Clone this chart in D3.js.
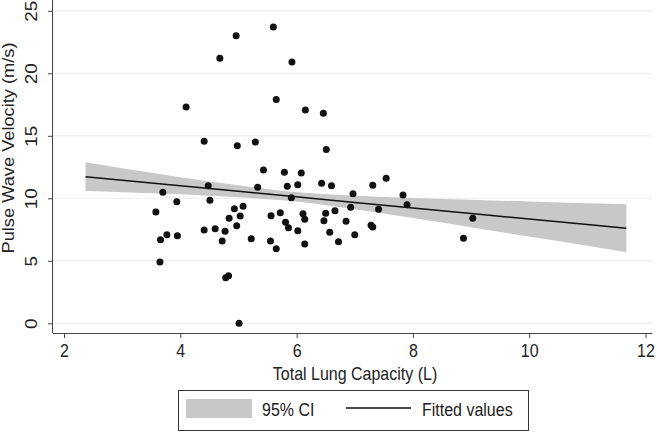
<!DOCTYPE html>
<html>
<head>
<meta charset="utf-8">
<script src="https://cdn.jsdelivr.net/npm/d3@7"></script>
<style>
  html, body { margin: 0; padding: 0; background: #fff; }
  svg { display: block; }
  text { font-family: "Liberation Sans", Arial, Helvetica, sans-serif; fill: #222; }
</style>
</head>
<body>
<svg id="chart" width="657" height="432"></svg>
<script>
// ---- Data ----
const tlc = [4.10,4.41,4.68,4.96,5.60,5.92,5.65,6.15,6.46,4.98,5.29,6.51,5.43,5.79,6.08,7.54,4.48,3.70,5.33,5.84,
  6.02,6.43,6.60,5.91,4.51,3.94,3.58,4.93,5.08,4.84,5.03,4.97,5.72,5.56,6.11,6.14,5.81,5.86,6.02,6.50,
  6.47,6.57,3.77,3.66,3.95,4.41,4.60,4.77,4.72,5.22,5.55,5.65,6.14,3.65,4.78,4.83,5.01,7.31,6.97,7.83,
  7.90,6.93,7.41,6.66,6.85,7.28,7.31,7.00,6.72,9.03,8.87];
const pwv = [17.3,14.57,21.2,23.0,23.7,20.9,17.9,17.06,16.8,14.2,14.5,13.9,12.26,12.08,12.02,11.6,11.0,10.48,10.88,10.96,
  11.09,11.2,11.0,10.05,9.84,9.73,8.9,9.17,9.36,8.4,8.58,7.81,8.85,8.6,8.77,8.32,8.08,7.65,7.41,8.8,
  8.21,7.28,7.09,6.69,7.01,7.46,7.57,7.36,6.58,6.77,6.58,5.97,6.34,4.9,3.65,3.81,0.0,11.04,10.37,10.26,
  9.49,9.28,9.12,9.0,8.16,7.84,7.7,7.09,6.53,8.4,6.8];

// Fitted line and 95% CI band, read at several x positions
const fitX   = [2.37, 3, 4, 5, 5.77, 7, 8, 9, 10, 11, 11.67];
const fitY   = [11.73, 11.45, 11.01, 10.56, 10.22, 9.67, 9.23, 8.79, 8.34, 7.90, 7.60];
const ciLow  = [10.58, 10.49, 10.33, 10.08, 9.85, 9.13, 8.43, 7.69, 6.94, 6.20, 5.68];
const ciHigh = [12.88, 12.41, 11.69, 11.04, 10.59, 10.21, 10.03, 9.89, 9.74, 9.60, 9.52];

const xTicks = [2, 4, 6, 8, 10, 12];
const yTicks = [0, 5, 10, 15, 20, 25];
const xTitle = "Total Lung Capacity (L)";
const yTitle = "Pulse Wave Velocity (m/s)";
const legendLabels = ["95% CI", "Fitted values"];

// ---- Drawing ----
const svg = d3.select("#chart");
const x = d3.scaleLinear().domain([2, 12]).range([64, 645.5]);
const y = d3.scaleLinear().domain([0, 25]).range([323.3, 10.8]);
const plotLeft = 53, plotRight = 652, plotBottom = 333, plotTop = 0;
const STRETCH = 1.18; // reference text is drawn taller than wide

// gridlines
svg.append("g").selectAll("line").data(yTicks).join("line")
  .attr("x1", plotLeft).attr("x2", plotRight)
  .attr("y1", d => y(d)).attr("y2", d => y(d))
  .attr("stroke", "#ececec").attr("stroke-width", 1);

// CI band
const band = fitX.map((d, i) => ({x: d, lo: ciLow[i], hi: ciHigh[i]}));
svg.append("path").datum(band)
  .attr("fill", "#c8c8c8")
  .attr("d", d3.area().x(d => x(d.x)).y0(d => y(d.lo)).y1(d => y(d.hi)).curve(d3.curveMonotoneX));

// points
svg.append("g").selectAll("circle").data(tlc.map((d, i) => [d, pwv[i]])).join("circle")
  .attr("cx", d => x(d[0])).attr("cy", d => y(d[1])).attr("r", 3.5)
  .attr("fill", "#111");

// fitted line
svg.append("path").datum(fitX.map((d, i) => [d, fitY[i]]))
  .attr("fill", "none").attr("stroke", "#111").attr("stroke-width", 1.5)
  .attr("d", d3.line().x(d => x(d[0])).y(d => y(d[1])));

// axes
const xAxis = svg.append("g").attr("transform", `translate(0,${plotBottom})`)
  .call(d3.axisBottom(x).tickValues(xTicks).tickSize(5).tickFormat(d3.format("d")));
xAxis.select(".domain").attr("d", `M${plotLeft},0.5H${plotRight}`).attr("stroke", "#444");
xAxis.selectAll(".tick line").attr("stroke", "#444");
xAxis.selectAll(".tick text")
  .attr("font-size", 16).attr("fill", "#222")
  .attr("font-family", "Liberation Sans, Arial, sans-serif")
  .attr("y", null).attr("dy", null)
  .attr("transform", `translate(0,24) scale(1,${STRETCH})`);

const yAxis = svg.append("g").attr("transform", `translate(${plotLeft},0)`)
  .call(d3.axisLeft(y).tickValues(yTicks).tickSize(5).tickFormat(d3.format("d")));
yAxis.select(".domain").attr("d", `M-0.5,${plotTop}V${plotBottom}`).attr("stroke", "#444");
yAxis.selectAll(".tick line").attr("stroke", "#444");
yAxis.selectAll(".tick text")
  .attr("font-size", 16).attr("fill", "#222")
  .attr("font-family", "Liberation Sans, Arial, sans-serif")
  .attr("x", null).attr("dy", null)
  .attr("text-anchor", "middle")
  .attr("transform", `translate(-16,0) rotate(-90) scale(${STRETCH},1)`);

// titles
svg.append("text").attr("transform", `translate(355,380) scale(1,${STRETCH})`).attr("text-anchor", "middle")
  .attr("font-size", 16).text(xTitle);
svg.append("text").attr("transform", `translate(14,148) rotate(-90) scale(1.14,1)`).attr("text-anchor", "middle")
  .attr("font-size", 16).text(yTitle);

// legend
const lg = svg.append("g");
lg.append("rect").attr("x", 178.5).attr("y", 390.5).attr("width", 350).attr("height", 40)
  .attr("fill", "#fff").attr("stroke", "#333");
lg.append("rect").attr("x", 186).attr("y", 399).attr("width", 66).attr("height", 19).attr("fill", "#c8c8c8");
lg.append("text").attr("transform", `translate(262,416) scale(1,${STRETCH})`).attr("font-size", 16).text(legendLabels[0]);
lg.append("line").attr("x1", 346).attr("x2", 411).attr("y1", 408).attr("y2", 408)
  .attr("stroke", "#111").attr("stroke-width", 1.5);
lg.append("text").attr("transform", `translate(422,416) scale(1,${STRETCH})`).attr("font-size", 16).text(legendLabels[1]);
</script>
</body>
</html>
